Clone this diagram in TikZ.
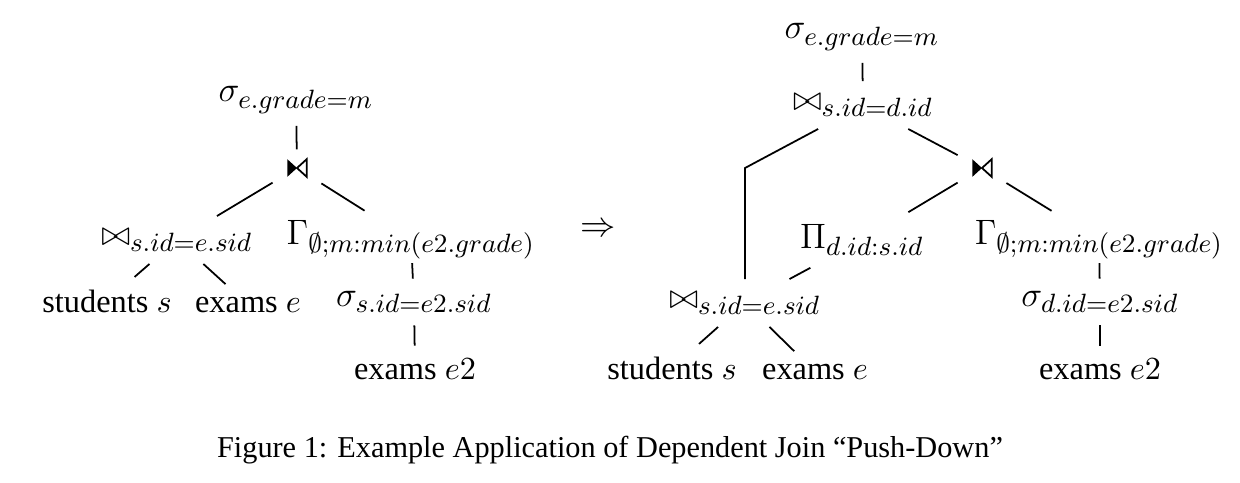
\documentclass[tikz,border=0pt]{standalone}
\usepackage{amsmath}
\usepackage{amssymb}
\usepackage{fontspec}
\setmainfont{Liberation Serif}
\usepackage{tikz}
\DeclareMathSizes{12}{12}{9}{7}

\newcommand{\drawdj}[1]{%
  \fill ([shift={(-3.3pt,3pt)}]#1.center) -- ([shift={(-3.3pt,-3pt)}]#1.center) -- (#1.center) -- cycle;
  \draw[line join=miter] (#1.center) -- ([shift={(3.3pt,3pt)}]#1.center) -- ([shift={(3.3pt,-3pt)}]#1.center) -- cycle;}

\begin{document}
\begin{tikzpicture}[x=0.34pt, y=-0.34pt, semithick,
    op/.style={inner sep=4pt, font=\fontsize{12}{14}\selectfont},
    agg/.style={op, inner ysep=1pt},
    leaf/.style={inner sep=4pt, anchor=base, font=\fontsize{11}{13}\selectfont},
    djn/.style={minimum width=16pt, minimum height=12pt, inner sep=0pt}]
        \useasboundingbox (0,0) rectangle (1240,482);
        \node[op] (sig1) at (296,100) {$\sigma_{e.grade=m}$};
        \node[djn] (dj1) at (297,168) {};
        \node[op] (jn1) at (177,240) {$\bowtie_{s.id=e.sid}$};
        \node[agg] (gam1) at (411,240) {$\Gamma_{\emptyset;m:min(e2.grade)}$};
        \node[leaf] (stud1) at (107,312) {students $s$};
        \node[leaf] (ex1) at (248,312) {exams $e$};
        \node[op] (sig2) at (414,302) {$\sigma_{s.id=e2.sid}$};
        \node[leaf] (exe2) at (415,379) {exams $e2$};
        \drawdj{dj1}
        \draw (sig1) -- (dj1);
        \draw (dj1) -- (jn1);
        \draw[shorten >=4pt] (dj1) -- (gam1);
        \draw (jn1) -- (stud1);
        \draw (jn1) -- (ex1);
        \draw (gam1) -- (sig2);
        \draw (sig2) -- (exe2);
        \node[op] (arr) at (598,230) {$\Rightarrow$};
        \node[op] (sig3) at (862,37) {$\sigma_{e.grade=m}$};
        \node[op] (jn2) at (863,105) {$\bowtie_{s.id=d.id}$};
        \node[djn] (dj2) at (982,168) {};
        \node[op] (proj) at (862,240) {$\Pi_{d.id:s.id}$};
        \node[agg] (gam2) at (1099,240) {$\Gamma_{\emptyset;m:min(e2.grade)}$};
        \node[op] (jn3) at (745,303) {$\bowtie_{s.id=e.sid}$};
        \node[leaf] (stud2) at (672,379) {students $s$};
        \node[leaf] (ex2) at (815,379) {exams $e$};
        \node[op] (sig4) at (1100,302) {$\sigma_{d.id=e2.sid}$};
        \node[leaf] (exe3) at (1100,379) {exams $e2$};
        \coordinate (bend) at (jn3 |- dj2);
        \drawdj{dj2}
        \draw (sig3) -- (jn2);
        \draw (jn2) -- (bend) -- (jn3);
        \draw (jn2) -- (dj2);
        \draw (dj2) -- (proj);
        \draw[shorten >=4pt] (dj2) -- (gam2);
        \draw (proj) -- (jn3);
        \draw (jn3) -- (stud2);
        \draw (jn3) -- (ex2);
        \draw (gam2) -- (sig4);
        \draw (sig4) -- (exe3);
        \node[font=\fontsize{10.3}{12}\selectfont] (cap) at (610,450) {Figure 1: Example Application of Dependent Join “Push-Down”};
    \end{tikzpicture}
\end{document}
